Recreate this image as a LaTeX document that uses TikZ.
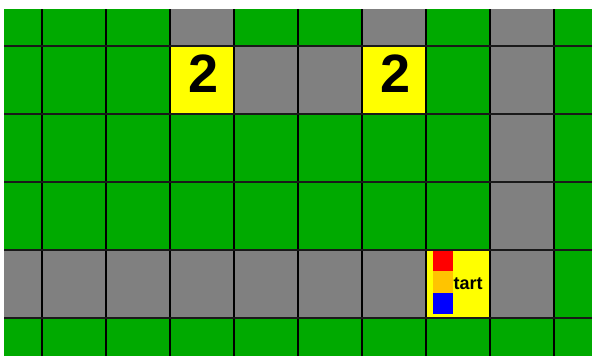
\documentclass[tikz,border=0pt]{standalone}
\usepackage{fontspec}
\setmainfont{Liberation Sans}
\definecolor{ggreen}{HTML}{00AA00}
\definecolor{ggray}{HTML}{808080}
\definecolor{gyellow}{HTML}{FFFF00}
\definecolor{gred}{HTML}{FF0000}
\definecolor{gorange}{HTML}{FFC400}
\definecolor{gblue}{HTML}{0000FF}
\definecolor{golive}{HTML}{8A8A20}
\begin{document}
\begin{tikzpicture}[x=1pt,y=-1pt,
  graycell/.style={fill=ggray},
  yellowcell/.style={fill=gyellow,draw=golive,line width=0.8pt},
  gridline/.style={draw=black,line width=1.7pt},
  bignum/.style={inner sep=0pt,anchor=base,font=\fontsize{54}{54}\selectfont\bfseries},
  starttext/.style={inner sep=0pt,anchor=base west,font=\fontsize{18}{18}\selectfont\bfseries}]
\useasboundingbox[fill=white] (0,0) rectangle (592,356);
\begin{scope}
\clip (4,9) rectangle (592,356);
\fill[ggreen] (4,9) rectangle (592,356);
\foreach \c/\r in {3/0,6/0,8/0,4/1,5/1,8/1,8/2,8/3,0/4,1/4,2/4,3/4,4/4,5/4,6/4,8/4}
  \path[graycell] (-21.7+64*\c,-22.3+68*\r) rectangle ++(64,68);
\foreach \c/\r in {3/1,6/1,7/4}
  \path[yellowcell] (-21.3+64*\c,-21.9+68*\r) rectangle ++(63.2,67.2);
\fill[gred] (432.7,249.5) rectangle (453.3,271);
\fill[gorange] (432.7,271) rectangle (453.3,292.5);
\fill[gblue] (432.7,292.5) rectangle (453.3,314);
\foreach \c in {0,...,8}
  \draw[gridline] (42.3+64*\c,0) -- (42.3+64*\c,356);
\foreach \r in {0,...,4}
  \draw[gridline,line width=2pt,draw=black!90] (0,45.7+68*\r) -- (592,45.7+68*\r);
\end{scope}
\node[bignum] (twoa) at (203.5,92.2) {2};
\node[bignum] (twob) at (395.5,92.2) {2};
\node[starttext] (start) at (453.5,289) {tart};
\end{tikzpicture}
\end{document}
